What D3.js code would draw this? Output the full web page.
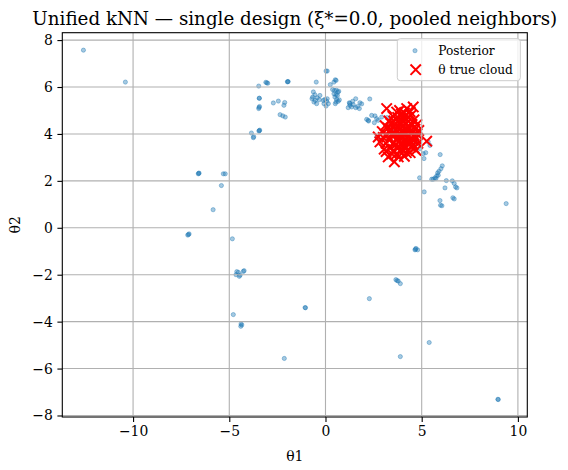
<!DOCTYPE html>
<html>
<head>
<meta charset="utf-8">
<script src="https://cdn.jsdelivr.net/npm/d3@7"></script>
<style>
  body { margin: 0; background: #fff; }
  svg { font-family: "DejaVu Serif", serif; }
</style>
</head>
<body>
<svg id="chart" width="568" height="470"></svg>
<script>
// posterior samples (theta1, theta2) -- repeated entries are stacked duplicates
const posterior = [
  [-12.58, 7.57], [-10.40, 6.21], [-6.59, 2.32], [-6.61, 2.30], [-6.57, 2.33],
  [-5.84, 0.77], [-5.41, 1.80], [-5.31, 2.30], [-5.21, 2.30],
  [-7.16, -0.31], [-7.09, -0.26], [-7.12, -0.29],
  [-3.85, 4.04], [-3.75, 3.84], [-3.73, 3.88], [-3.44, 4.14], [-3.46, 4.12], [-3.42, 4.16],
  [-3.45, 5.13], [-3.47, 5.08], [-3.43, 5.17], [-3.44, 5.52], [-3.44, 5.52], [-3.47, 6.04],
  [-3.05, 6.18], [-3.10, 6.20], [-3.00, 6.16], [-1.96, 6.23], [-1.94, 6.23], [-1.98, 6.22],
  [-2.71, 5.32], [-2.45, 5.40], [-2.12, 5.34], [-2.16, 5.22],
  [-2.36, 4.82], [-2.22, 4.77], [-2.09, 4.72],
  [0.03, 6.68], [0.09, 6.68], [-0.48, 6.21], [0.25, 6.10], [0.51, 6.31], [0.55, 6.28], [0.44, 6.21],
  [0.37, 5.89], [0.47, 5.85], [0.57, 5.86], [0.65, 5.78], [0.44, 5.71], [0.55, 5.67], [0.62, 5.64], [0.69, 5.82],
  [-0.63, 5.79], [-0.55, 5.67], [-0.67, 5.57], [-0.43, 5.54], [-0.29, 5.64],
  [-0.53, 5.43], [-0.70, 5.50], [-0.46, 5.29], [-0.60, 5.36], [-0.32, 5.46],
  [-0.03, 5.47], [0.06, 5.39], [-0.08, 5.29], [0.15, 5.29], [0.03, 5.19], [0.09, 5.50], [-0.11, 5.43],
  [0.49, 5.57], [0.58, 5.47], [0.55, 5.36], [0.66, 5.39], [0.72, 5.45], [0.51, 5.29],
  [1.24, 5.33], [1.27, 5.22], [1.36, 5.15], [1.44, 5.25], [1.57, 5.12], [1.67, 5.17],
  [1.79, 5.33], [1.88, 5.28], [1.57, 5.50], [1.76, 5.08], [1.18, 5.12], [1.41, 5.39], [1.26, 5.30],
  [2.30, 5.49], [2.14, 4.62], [2.24, 4.55],
  [2.22, 4.58], [2.40, 4.79], [2.57, 4.77], [2.66, 4.65], [2.74, 4.58], [2.92, 4.72], [2.54, 4.48],
  [2.66, 3.87], [2.74, 3.80],
  [3.30, 4.40], [3.60, 4.20], [4.00, 3.90], [4.40, 3.80], [4.70, 3.60], [3.20, 4.70],
  [4.82, 3.59], [4.91, 3.37], [5.08, 3.16], [5.21, 3.20], [5.12, 2.95], [5.43, 3.51], [5.34, 3.66],
  [5.96, 3.12],
  [6.07, 2.64], [6.00, 2.52], [5.90, 2.41], [5.83, 2.34], [5.78, 2.21],
  [5.69, 2.13], [5.60, 2.07], [5.52, 2.07], [5.74, 2.10], [5.86, 2.24],
  [4.89, 2.13], [5.13, 1.53], [6.21, 1.70], [6.28, 2.01],
  [6.59, 2.00], [6.69, 1.89], [6.76, 1.74], [6.83, 1.70],
  [6.62, 1.28], [6.69, 1.23], [5.95, 1.16], [5.98, 0.96], [6.05, 0.94],
  [9.39, 1.03],
  [4.65, -0.94], [4.79, -0.94], [4.70, -0.88], [4.68, -0.92],
  [3.66, -2.21], [3.78, -2.27], [3.89, -2.38], [3.72, -2.25],
  [2.28, -3.02], [5.39, -4.89], [3.89, -5.49], [8.98, -7.32], [8.96, -7.31],
  [-4.84, -0.47],
  [-4.61, -1.87], [-4.53, -1.90], [-4.44, -2.02], [-4.65, -2.00], [-4.48, -2.07], [-4.23, -1.83], [-4.27, -1.86],
  [-4.79, -3.70], [-4.39, -4.10], [-4.40, -4.20], [-4.35, -4.14],
  [-1.06, -3.40], [-1.04, -3.41], [-2.14, -5.57]
];

// true theta cloud (theta1, theta2)
const trueCloud = [
  [3.18, 5.08], [3.70, 4.93], [4.22, 5.08], [4.56, 5.15], [4.40, 4.95], [3.95, 4.85], [4.05, 4.70],
  [3.50, 4.75], [3.30, 4.55], [4.60, 4.60], [4.75, 4.40], [4.85, 4.15], [5.26, 3.69], [4.70, 3.80],
  [4.55, 3.55], [4.70, 3.30], [4.40, 3.20], [4.10, 3.05], [3.78, 3.02], [3.58, 2.81], [3.26, 3.02],
  [3.05, 3.35], [2.83, 3.66], [2.74, 3.87], [2.95, 4.10], [3.10, 4.35], [3.40, 4.20], [3.60, 4.40],
  [3.80, 4.55], [4.00, 4.30], [4.20, 4.45], [4.35, 4.25], [4.50, 4.05], [4.30, 3.90], [4.10, 3.75],
  [3.90, 3.95], [3.70, 3.80], [3.50, 3.60], [3.30, 3.75], [3.45, 3.95], [3.65, 4.15], [3.85, 4.20],
  [4.05, 4.05], [4.25, 3.65], [4.45, 3.45], [4.15, 3.40], [3.95, 3.55], [3.75, 3.45], [3.55, 3.30],
  [3.35, 3.40], [3.15, 3.60], [3.20, 3.95], [3.35, 4.10], [3.55, 4.55], [3.75, 4.70], [4.00, 4.55],
  [4.30, 4.70], [4.50, 4.40], [4.65, 4.20], [4.60, 3.95], [4.40, 3.70], [4.20, 3.20], [3.90, 3.25],
  [3.70, 3.15], [3.45, 3.15], [3.95, 4.10], [4.15, 4.20], [3.60, 3.95], [3.80, 3.65], [4.05, 3.55],
  [4.35, 3.55], [4.55, 3.75], [3.25, 4.25], [3.00, 3.85], [3.40, 4.45], [4.10, 4.90], [3.85, 5.00],
  [4.45, 4.80], [4.75, 4.00], [4.80, 3.60], [3.65, 3.55], [3.85, 3.85], [4.00, 3.90], [4.20, 4.00],
  [3.50, 4.05], [3.90, 4.40], [4.25, 4.20], [4.60, 3.40], [3.15, 3.25], [3.95, 3.35]
];

const xTicks = [-10, -5, 0, 5, 10];
const yTicks = [-8, -6, -4, -2, 0, 2, 4, 6, 8];
const titleText = "Unified kNN \u2014 single design (\u03be*=0.0, pooled neighbors)";
const legendLabels = ["Posterior", "\u03b8 true cloud"];

const W = 568, H = 470;
const margin = { top: 32.7, right: 40.7, bottom: 53, left: 62.3 };
const width = W - margin.left - margin.right;
const height = H - margin.top - margin.bottom;

const svg = d3.select("#chart");
const g = svg.append("g").attr("transform", `translate(${margin.left},${margin.top})`);

// matplotlib-like 5% padding around the data
const all = posterior.concat(trueCloud);
const pad = ([lo, hi]) => [lo - 0.05 * (hi - lo), hi + 0.05 * (hi - lo)];
const x = d3.scaleLinear().domain(pad(d3.extent(all, d => d[0]))).range([0, width]);
const y = d3.scaleLinear().domain(pad(d3.extent(all, d => d[1]))).range([height, 0]);

const blue = "#1f77b4";

// posterior points
g.append("g").selectAll("circle")
  .data(posterior)
  .enter().append("circle")
  .attr("cx", d => x(d[0]))
  .attr("cy", d => y(d[1]))
  .attr("r", 2.1)
  .attr("fill", blue).attr("fill-opacity", 0.4)
  .attr("stroke", blue).attr("stroke-opacity", 0.4).attr("stroke-width", 1);

// true cloud x markers
const xm = 5.2;
const cross = `M${-xm},${-xm}L${xm},${xm}M${-xm},${xm}L${xm},${-xm}`;
g.append("g").selectAll("path")
  .data(trueCloud)
  .enter().append("path")
  .attr("transform", d => `translate(${x(d[0])},${y(d[1])})`)
  .attr("d", cross)
  .attr("fill", "none")
  .attr("stroke", "#ff0000")
  .attr("stroke-width", 2);

// grid (drawn above the scatter collections, like matplotlib)
const grid = g.append("g").attr("stroke", "#b0b0b0").attr("stroke-width", 1.1);
grid.selectAll(".gx").data(xTicks).enter().append("line")
  .attr("x1", d => x(d)).attr("x2", d => x(d)).attr("y1", 0).attr("y2", height);
grid.selectAll(".gy").data(yTicks).enter().append("line")
  .attr("y1", d => y(d)).attr("y2", d => y(d)).attr("x1", 0).attr("x2", width);

// axes
const fmt = d3.format("d");
const xAxis = g.append("g")
  .attr("transform", `translate(0,${height})`)
  .call(d3.axisBottom(x).tickValues(xTicks).tickFormat(fmt).tickSize(4.9).tickPadding(4.6));
const yAxis = g.append("g")
  .call(d3.axisLeft(y).tickValues(yTicks).tickFormat(fmt).tickSize(4.9).tickPadding(4.6));
[xAxis, yAxis].forEach(a => {
  a.select(".domain").remove();
  a.selectAll(".tick line").attr("stroke", "#000").attr("stroke-width", 1.1);
  a.selectAll(".tick text").attr("fill", "#000")
    .style("font-family", "'DejaVu Serif', serif").style("font-size", "13.9px");
});

// spines
g.append("rect")
  .attr("width", width).attr("height", height)
  .attr("fill", "none").attr("stroke", "#000").attr("stroke-width", 1.1);

// title and labels
svg.append("text")
  .attr("x", margin.left + width / 2).attr("y", 24.5)
  .attr("text-anchor", "middle").style("font-size", "18.3px")
  .text(titleText);
svg.append("text")
  .attr("x", margin.left + width / 2).attr("y", 461)
  .attr("text-anchor", "middle").style("font-size", "13.9px")
  .text("\u03b81");
svg.append("text")
  .attr("transform", `translate(20,${margin.top + height / 2}) rotate(-90)`)
  .attr("text-anchor", "middle").style("font-size", "13.9px")
  .text("\u03b82");

// legend
const lg = svg.append("g").attr("transform", "translate(397.3,38.7)");
lg.append("rect")
  .attr("width", 123).attr("height", 42).attr("rx", 3)
  .attr("fill", "#fff").attr("fill-opacity", 0.8)
  .attr("stroke", "#cccccc").attr("stroke-width", 1);
lg.append("circle")
  .attr("cx", 17.7).attr("cy", 12).attr("r", 2.1)
  .attr("fill", blue).attr("fill-opacity", 0.4)
  .attr("stroke", blue).attr("stroke-opacity", 0.4).attr("stroke-width", 1);
lg.append("path")
  .attr("transform", "translate(18.4,31)")
  .attr("d", cross).attr("fill", "none").attr("stroke", "#ff0000").attr("stroke-width", 2);
lg.selectAll(".lt").data(legendLabels).enter().append("text")
  .attr("x", 41).attr("y", (d, i) => 16 + i * 19)
  .style("font-size", "12.2px")
  .text(d => d);
</script>
</body>
</html>
